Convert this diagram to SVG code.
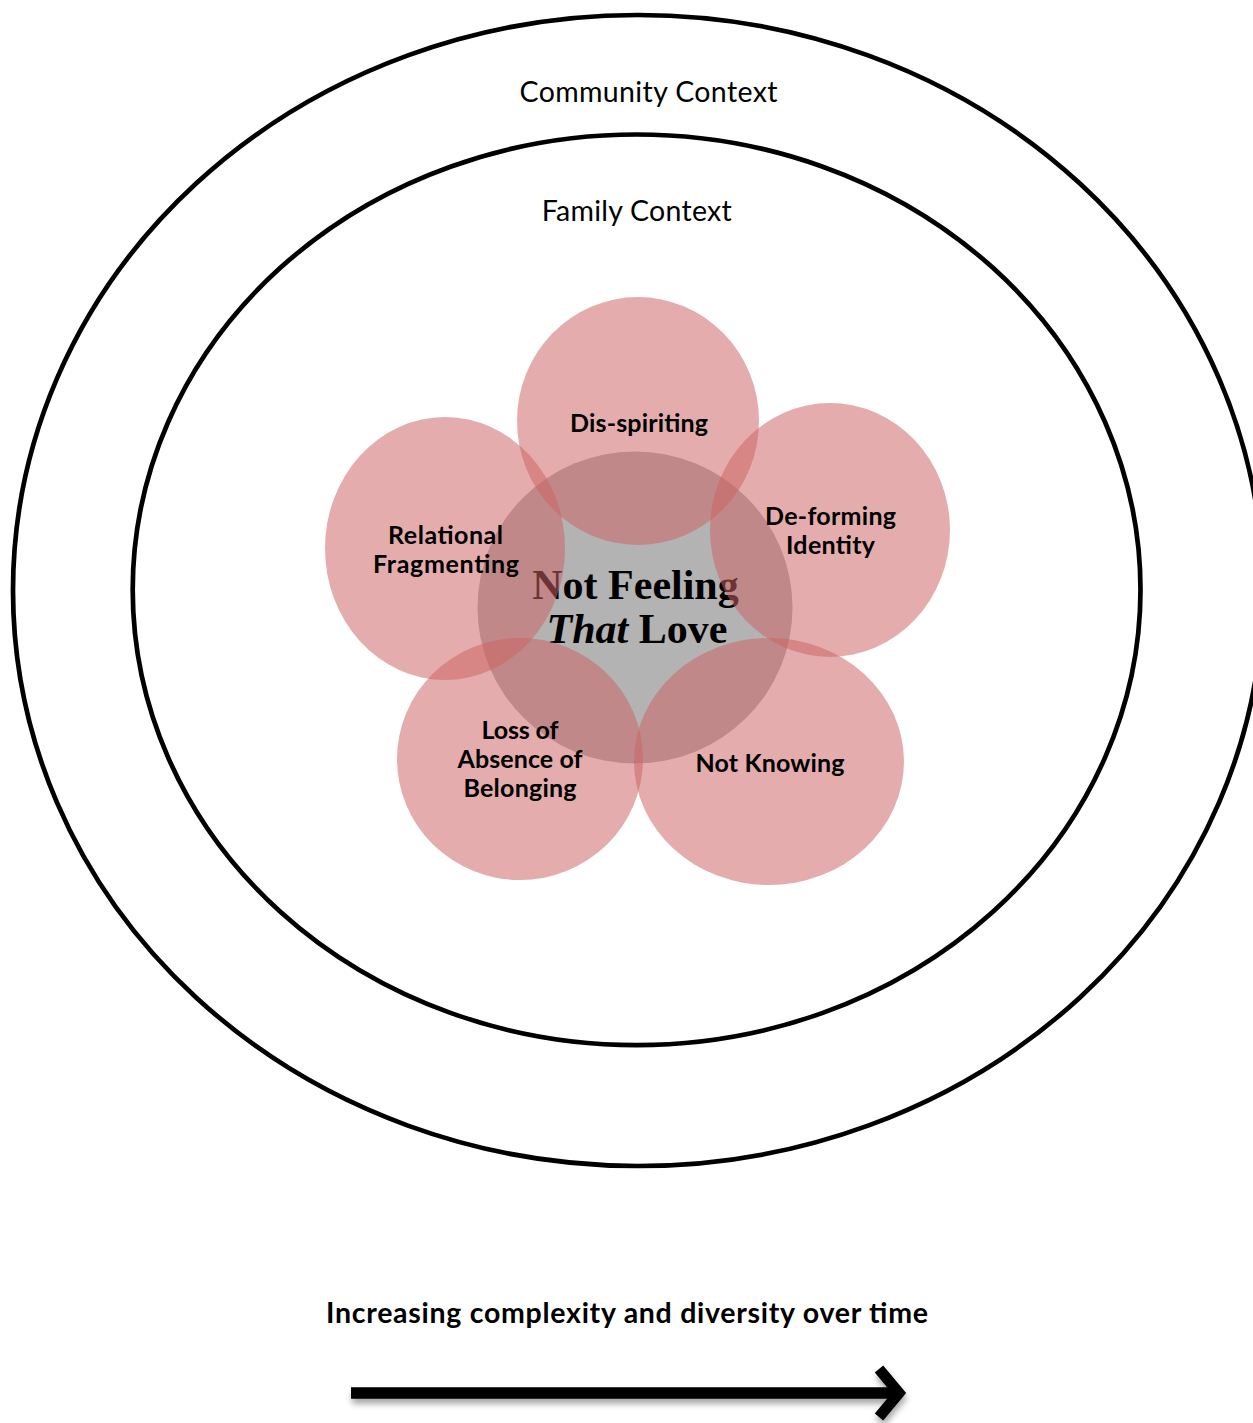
<svg xmlns="http://www.w3.org/2000/svg" width="1253" height="1423" viewBox="0 0 1253 1423">
  <defs>
    <style>
      .ring { fill: none; stroke: #000; stroke-width: 4.7; }
      .petal { fill: #cc6362; fill-opacity: 0.53; }
      .core { fill: #b3b3b3; }
      .ctx { font-family: Lato, "Open Sans", "Liberation Sans", sans-serif; font-size: 28.5px; fill: #000; text-anchor: middle; }
      .lbl { font-family: Lato, "Open Sans", "Liberation Sans", sans-serif; font-size: 25px; font-weight: bold; fill: #000; text-anchor: middle; }
      .title { font-family: Lato, "Open Sans", "Liberation Sans", sans-serif; font-size: 28.5px; font-weight: bold; fill: #000; text-anchor: middle; }
      .core-text { font-family: "Liberation Serif", "Times New Roman", serif; font-size: 42px; font-weight: bold; fill: #000; text-anchor: middle; }
      .arrow { fill: none; stroke: #000; }
    </style>
    <filter id="shadow" x="-10%" y="-100%" width="120%" height="300%">
      <feDropShadow dx="1" dy="5" stdDeviation="3" flood-color="#000" flood-opacity="0.35"/>
    </filter>
  </defs>

  <rect width="1253" height="1423" fill="#fff"/>

  <g id="community-context">
    <ellipse class="ring" cx="638" cy="590.5" rx="625" ry="575.5"/>
    <text class="ctx" x="648.5" y="101.7" textLength="258" lengthAdjust="spacing">Community Context</text>
  </g>

  <g id="family-context">
    <ellipse class="ring" cx="636.6" cy="589.8" rx="503.9" ry="455.3"/>
    <text class="ctx" x="636.7" y="221" textLength="190" lengthAdjust="spacing">Family Context</text>
  </g>

  <g id="core">
    <ellipse class="core" cx="635" cy="607.5" rx="157.5" ry="156"/>
    <text class="core-text" x="635.5" y="599">Not Feeling</text>
    <text class="core-text" x="637" y="643"><tspan font-style="italic">That</tspan> Love</text>
  </g>

  <g id="dis-spiriting">
    <ellipse class="petal" cx="638" cy="421" rx="121" ry="124"/>
  </g>
  <g id="de-forming-identity">
    <ellipse class="petal" cx="830" cy="530" rx="120" ry="127"/>
  </g>
  <g id="relational-fragmenting">
    <ellipse class="petal" cx="445" cy="548.5" rx="120" ry="131.5"/>
  </g>
  <g id="loss-of-belonging">
    <ellipse class="petal" cx="520" cy="759" rx="123" ry="121"/>
  </g>
  <g id="not-knowing">
    <ellipse class="petal" cx="769" cy="761.5" rx="135" ry="123.5"/>
  </g>

  <g id="labels">
    <text class="lbl" x="639" y="432" textLength="138" lengthAdjust="spacing">Dis-spiriting</text>
    <text class="lbl" x="830.5" y="525" textLength="131" lengthAdjust="spacing">De-forming</text>
    <text class="lbl" x="830.5" y="554" textLength="89" lengthAdjust="spacing">Identity</text>
    <text class="lbl" x="445.5" y="544" textLength="115" lengthAdjust="spacing">Relational</text>
    <text class="lbl" x="446" y="573" textLength="146" lengthAdjust="spacing">Fragmenting</text>
    <text class="lbl" x="520" y="739" textLength="77" lengthAdjust="spacing">Loss of</text>
    <text class="lbl" x="520" y="768" textLength="125" lengthAdjust="spacing">Absence of</text>
    <text class="lbl" x="520" y="797" textLength="113" lengthAdjust="spacing">Belonging</text>
    <text class="lbl" x="770" y="772" textLength="149" lengthAdjust="spacing">Not Knowing</text>
  </g>

  <g id="time-caption">
    <text class="title" x="627" y="1323" textLength="602" lengthAdjust="spacing">Increasing complexity and diversity over time</text>
  </g>

  <g id="connectors" filter="url(#shadow)">
    <line class="arrow" x1="351" y1="1393" x2="898" y2="1393" stroke-width="11.5"/>
    <polyline class="arrow" points="879,1369 899,1393 879,1417" stroke-width="11" stroke-linejoin="miter"/>
  </g>
</svg>
